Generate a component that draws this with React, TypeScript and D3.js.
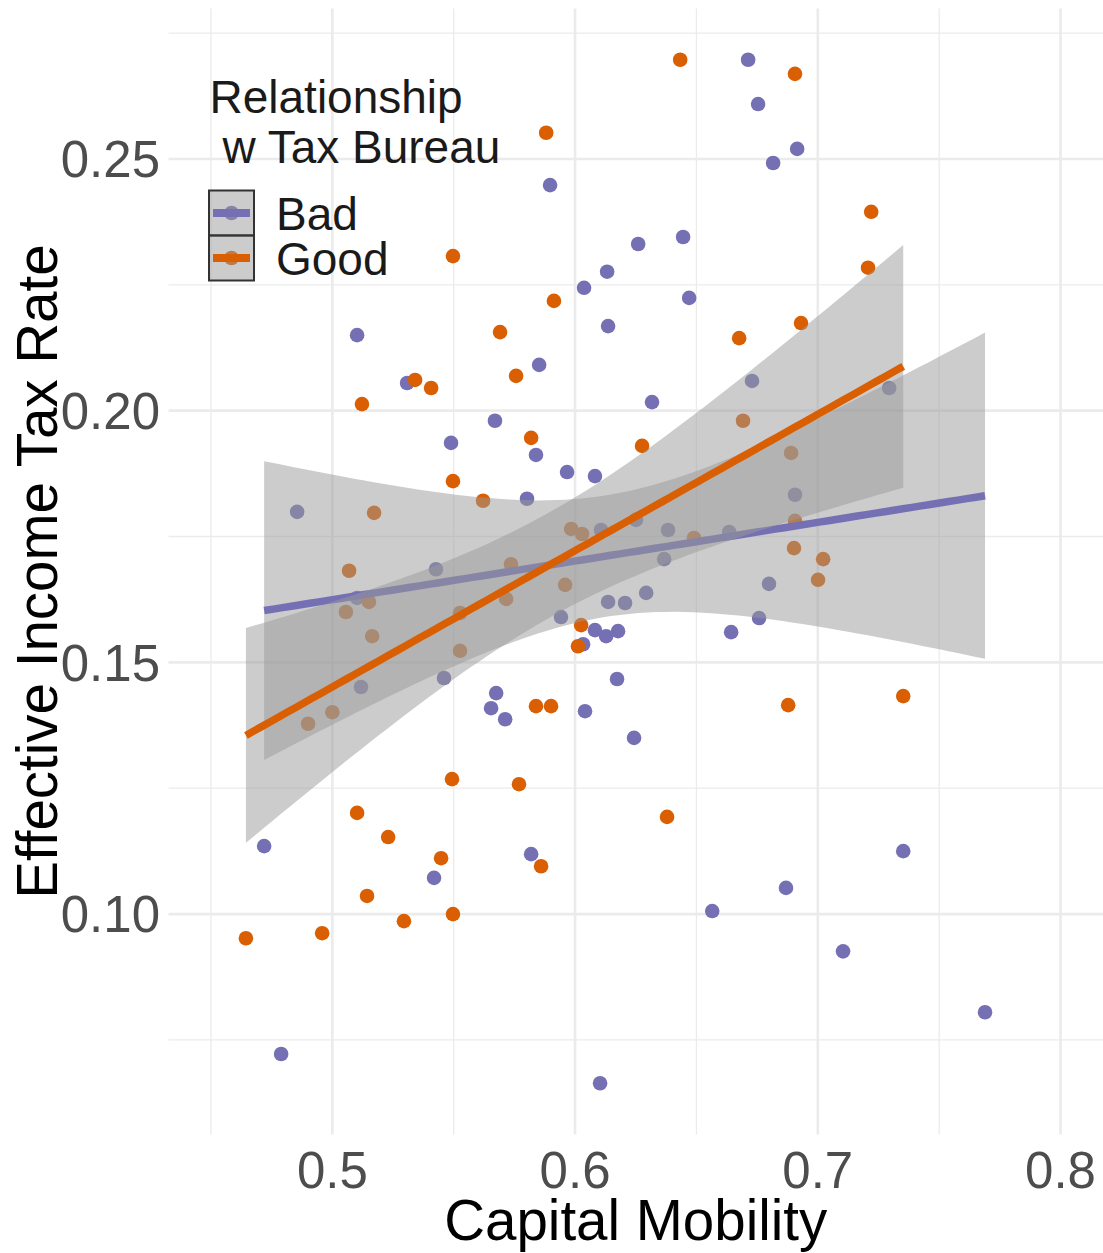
import React from "react";
import * as d3 from "d3";

// Relationship with tax bureau: capital mobility (x) vs effective income tax rate (y)
const groups = ["Bad", "Good"];
const groupColors = ["#7570B3", "#D95F02"];

const badMobility = [
  0.6713, 0.6754, 0.6915, 0.6816, 0.5897, 0.6445, 0.626, 0.6132, 0.6037, 0.647,
  0.6136, 0.5102, 0.5852, 0.6729, 0.5308, 0.7294, 0.6317, 0.567, 0.5489, 0.5839,
  0.5967, 0.6082, 0.6906, 0.5802, 0.4855, 0.6251, 0.6107, 0.6383, 0.6635, 0.6367,
  0.5427, 0.6799, 0.6293, 0.5102, 0.6136, 0.6206, 0.5942, 0.6758, 0.6082, 0.6177,
  0.6643, 0.6128, 0.6033, 0.546, 0.6173, 0.5118, 0.5675, 0.5654, 0.6041, 0.5712,
  0.6243, 0.4719, 0.7352, 0.5819, 0.5419, 0.6869, 0.6565, 0.7104, 0.7689, 0.4789,
  0.6103,
];
const badTaxRate = [
  0.2697, 0.2609, 0.252, 0.2492, 0.2448, 0.2345, 0.2331, 0.2276, 0.2244, 0.2224,
  0.2168, 0.215, 0.2091, 0.2059, 0.2055, 0.2045, 0.2017, 0.198, 0.1936, 0.1912,
  0.1878, 0.187, 0.1833, 0.1825, 0.1799, 0.1783, 0.1763, 0.1763, 0.1759, 0.1705,
  0.1685, 0.1656, 0.1638, 0.1628, 0.162, 0.1618, 0.159, 0.1588, 0.1564, 0.1562,
  0.156, 0.1552, 0.1536, 0.1469, 0.1467, 0.1451, 0.1439, 0.1409, 0.1403, 0.1387,
  0.135, 0.1135, 0.1125, 0.1119, 0.1072, 0.1052, 0.1006, 0.0926, 0.0805, 0.0722,
  0.0664,
];
const goodMobility = [
  0.6433, 0.6906, 0.5881, 0.722, 0.5497, 0.7207, 0.5913, 0.6931, 0.5691, 0.6676,
  0.5757, 0.5341, 0.5407, 0.5122, 0.6692, 0.5819, 0.6276, 0.689, 0.5497, 0.5621,
  0.5172, 0.6906, 0.5984, 0.6029, 0.649, 0.6902, 0.7022, 0.5736, 0.5069, 0.7001,
  0.5959, 0.5151, 0.5716, 0.5056, 0.5526, 0.6025, 0.5164, 0.6012, 0.5526, 0.7352,
  0.6878, 0.5839, 0.5901, 0.5, 0.49, 0.5493, 0.5769, 0.5102, 0.6379, 0.523,
  0.5448, 0.586, 0.5143, 0.5497, 0.5295, 0.4958, 0.4644,
];
const goodTaxRate = [
  0.2697, 0.2669, 0.2552, 0.2395, 0.2307, 0.2284, 0.2218, 0.2174, 0.2156, 0.2144,
  0.2069, 0.2061, 0.2045, 0.2013, 0.198, 0.1946, 0.193, 0.1916, 0.186, 0.1821,
  0.1797, 0.1781, 0.1765, 0.1755, 0.1747, 0.1727, 0.1705, 0.1695, 0.1682, 0.1664,
  0.1654, 0.162, 0.1626, 0.16, 0.1598, 0.1574, 0.1552, 0.1532, 0.1523, 0.1433,
  0.1415, 0.1413, 0.1413, 0.1401, 0.1378, 0.1268, 0.1258, 0.1201, 0.1193, 0.1153,
  0.1111, 0.1095, 0.1036, 0.1, 0.0986, 0.0962, 0.0952,
];

const xLimits = [0.45, 0.8];
const xTicks = [0.5, 0.6, 0.7, 0.8];
const xMinorTicks = [0.45, 0.55, 0.65, 0.75];
const yTicks = [0.1, 0.15, 0.2, 0.25];
const yMinorTicks = [0.075, 0.125, 0.175, 0.225, 0.275];

const W = 1103;
const H = 1253;
const font = "'Liberation Sans', Arial, Helvetica, sans-serif";

// 97.5% quantile of Student t (Cornish-Fisher expansion)
function tq975(df: number) {
  const z = 1.959964;
  return z + (z ** 3 + z) / (4 * df) + (5 * z ** 5 + 16 * z ** 3 + 3 * z) / (96 * df * df);
}

// lm fit with 95% confidence band, like geom_smooth(method = "lm")
function lmSmooth(xs: number[], ys: number[]) {
  const n = xs.length;
  const mx = d3.mean(xs)!;
  const my = d3.mean(ys)!;
  let sxx = 0;
  let sxy = 0;
  xs.forEach((x, i) => {
    sxx += (x - mx) ** 2;
    sxy += (x - mx) * (ys[i] - my);
  });
  const b = sxy / sxx;
  const a = my - b * mx;
  const rss = d3.sum(xs, (x, i) => (ys[i] - a - b * x) ** 2);
  const s = Math.sqrt(rss / (n - 2));
  const t = tq975(n - 2);
  const [x0, x1] = d3.extent(xs) as [number, number];
  return d3.range(80).map((k) => {
    const x = x0 + ((x1 - x0) * k) / 79;
    const fit = a + b * x;
    const se = s * Math.sqrt(1 / n + (x - mx) ** 2 / sxx);
    return { x, fit, lo: fit - t * se, hi: fit + t * se };
  });
}

const App = () => {
  const series = [
    { name: groups[0], color: groupColors[0], xs: badMobility, ys: badTaxRate },
    { name: groups[1], color: groupColors[1], xs: goodMobility, ys: goodTaxRate },
  ];

  const xPad = (xLimits[1] - xLimits[0]) * 0.05;
  const x = d3
    .scaleLinear()
    .domain([xLimits[0] - xPad, xLimits[1] + xPad])
    .range([168.5, 1103]);

  const yExt = d3.extent([...badTaxRate, ...goodTaxRate]) as [number, number];
  const yPad = (yExt[1] - yExt[0]) * 0.05;
  const y = d3
    .scaleLinear()
    .domain([yExt[0] - yPad, yExt[1] + yPad])
    .range([1134.4, 8.6]);

  const [px0, px1] = x.range();
  const [py1, py0] = y.range();

  const area = d3
    .area<{ x: number; lo: number; hi: number }>()
    .x((d) => x(d.x))
    .y0((d) => y(d.lo))
    .y1((d) => y(d.hi));
  const line = d3
    .line<{ x: number; fit: number }>()
    .x((d) => x(d.x))
    .y((d) => y(d.fit));

  const fits = series.map((s) => lmSmooth(s.xs, s.ys));

  return (
    <svg
      width={W}
      height={H}
      style={{ position: "absolute", left: 0, top: 0, background: "#fff" }}
      fontFamily={font}
    >
      <rect x={0} y={0} width={W} height={H} fill="#fff" />

      {/* grid */}
      <g stroke="#EBEBEB" fill="none">
        {yMinorTicks.map((v) => (
          <line key={"ym" + v} x1={px0} x2={px1} y1={y(v)} y2={y(v)} strokeWidth={1.3} />
        ))}
        {xMinorTicks.map((v) => (
          <line key={"xm" + v} x1={x(v)} x2={x(v)} y1={py0} y2={py1} strokeWidth={1.3} />
        ))}
        {yTicks.map((v) => (
          <line key={"y" + v} x1={px0} x2={px1} y1={y(v)} y2={y(v)} strokeWidth={2.6} />
        ))}
        {xTicks.map((v) => (
          <line key={"x" + v} x1={x(v)} x2={x(v)} y1={py0} y2={py1} strokeWidth={2.6} />
        ))}
      </g>

      {/* points */}
      {series.map((s) => (
        <g key={"pts" + s.name} fill={s.color}>
          {s.xs.map((v, i) => (
            <circle key={i} cx={x(v)} cy={y(s.ys[i])} r={7.3} />
          ))}
        </g>
      ))}

      {/* smooths: ribbon then line per group */}
      {series.map((s, i) => (
        <g key={"sm" + s.name}>
          <path d={area(fits[i]) || ""} fill="#999999" fillOpacity={0.5} />
          <path d={line(fits[i]) || ""} fill="none" stroke={s.color} strokeWidth={7.5} />
        </g>
      ))}

      {/* axes text */}
      <g fill="#4D4D4D" fontSize={51}>
        {yTicks.map((v) => (
          <text key={"yl" + v} x={160} y={y(v)} dy="0.36em" textAnchor="end">
            {d3.format(".2f")(v)}
          </text>
        ))}
        {xTicks.map((v) => (
          <text key={"xl" + v} x={x(v)} y={1188} textAnchor="middle">
            {d3.format(".1f")(v)}
          </text>
        ))}
      </g>
      <text x={(px0 + px1) / 2} y={1240} textAnchor="middle" fontSize={56.5} fill="#000">
        Capital Mobility
      </text>
      <text
        transform={`translate(57,${(py0 + py1) / 2}) rotate(-90)`}
        textAnchor="middle"
        fontSize={56.5}
        fill="#000"
      >
        Effective Income Tax Rate
      </text>

      {/* legend */}
      <g fill="#1A1A1A" fontSize={46}>
        <text x={209.5} y={113}>Relationship</text>
        <text x={222.5} y={163}>w Tax Bureau</text>
      </g>
      {series.map((s, i) => {
        const ky = 190.5 + i * 45;
        return (
          <g key={"key" + s.name}>
            <circle cx={231.5} cy={ky + 22.5} r={7.3} fill={s.color} />
            <rect x={209} y={ky} width={45} height={45} fill="#999999" fillOpacity={0.5} />
            <line x1={213} x2={250} y1={ky + 22.5} y2={ky + 22.5} stroke={s.color} strokeWidth={8} />
            <rect x={209} y={ky} width={45} height={45} fill="none" stroke="#333" strokeWidth={2} />
            <text x={276} y={ky + 39.5} fontSize={46} fill="#1A1A1A">
              {s.name}
            </text>
          </g>
        );
      })}
    </svg>
  );
};

export default App;
